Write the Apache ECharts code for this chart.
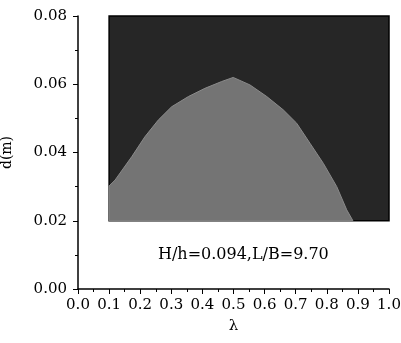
<!DOCTYPE html>
<html><head><meta charset="utf-8">
<script src="https://cdn.jsdelivr.net/npm/echarts@6/dist/echarts.min.js"></script>
<style>html,body{margin:0;padding:0;background:#fff}#c{width:401px;height:343px}</style>
</head><body><div id="c"></div>
<script>
var xTicks = [0.0,0.1,0.2,0.3,0.4,0.5,0.6,0.7,0.8,0.9,1.0];
var yTicks = [0.00,0.02,0.04,0.06,0.08];
var rectLambda = [0.1, 1.0];
var rectD = [0.02, 0.08];
var boundaryLambda = [0.100, 0.119, 0.173, 0.215, 0.258, 0.301, 0.355, 0.408, 0.462, 0.499, 0.553, 0.607, 0.660, 0.703, 0.746, 0.789, 0.832, 0.864, 0.884];
var boundaryD      = [0.0302,0.0319,0.0388,0.0446,0.0495,0.0534,0.0564,0.0588,0.0608,0.0620,0.0598,0.0564,0.0525,0.0486,0.0427,0.0368,0.0300,0.0232,0.0200];
var note = 'H/h=0.094,L/B=9.70';

var FONT = 'DejaVu Serif';
var chart = echarts.init(document.getElementById('c'));

function polyItem(pts, fill, stroke, lw) {
  return function (params, api) {
    var p = pts.map(function (q) { return api.coord(q); });
    return { type: 'polygon', shape: { points: p }, style: { fill: fill, stroke: stroke, lineWidth: lw } };
  };
}
var rectPts = [[rectLambda[0], rectD[0]], [rectLambda[1], rectD[0]], [rectLambda[1], rectD[1]], [rectLambda[0], rectD[1]]];
var lightPts = [[rectLambda[0], rectD[0]]];
for (var i = 0; i < boundaryLambda.length; i++) lightPts.push([boundaryLambda[i], boundaryD[i]]);

chart.setOption({
  animation: false,
  grid: { left: 78, right: 12, top: 16, bottom: 54, outerBoundsMode: 'none', containLabel: false },
  xAxis: {
    type: 'value', min: 0, max: 1, interval: 0.1,
    name: 'λ', nameLocation: 'middle', nameGap: 30,
    nameTextStyle: { fontFamily: FONT, fontSize: 15, color: '#000' },
    axisLine: { lineStyle: { color: '#000', width: 1.5 } },
    axisTick: { inside: false, length: 5, lineStyle: { color: '#000' } },
    minorTick: { show: true, splitNumber: 2, length: 3, lineStyle: { color: '#000' } },
    splitLine: { show: false },
    axisLabel: { fontFamily: FONT, fontSize: 15, color: '#000', margin: 9,
      formatter: function (v) { return v.toFixed(1); } }
  },
  yAxis: {
    type: 'value', min: 0, max: 0.08, interval: 0.02,
    name: 'd(m)', nameLocation: 'middle', nameGap: 64, nameRotate: 90,
    nameTextStyle: { fontFamily: FONT, fontSize: 14, color: '#000' },
    axisLine: { show: true, lineStyle: { color: '#000', width: 1.5 } },
    axisTick: { show: true, inside: false, length: 5, lineStyle: { color: '#000' } },
    minorTick: { show: true, splitNumber: 2, length: 3, lineStyle: { color: '#000' } },
    splitLine: { show: false },
    axisLabel: { fontFamily: FONT, fontSize: 15, color: '#000', margin: 11,
      formatter: function (v) { return v.toFixed(2); } }
  },
  graphic: [{
    type: 'text', left: 158, top: 247,
    style: { text: note, fontFamily: FONT, fontSize: 16, fill: '#000' }
  }],
  series: [
    { type: 'custom', data: [0], renderItem: polyItem(rectPts, '#262626', '#000', 1.5), z: 2 },
    { type: 'custom', data: [0], renderItem: polyItem(lightPts, '#747474', '#8a8a8a', 1), z: 3 }
  ]
});
</script></body></html>
